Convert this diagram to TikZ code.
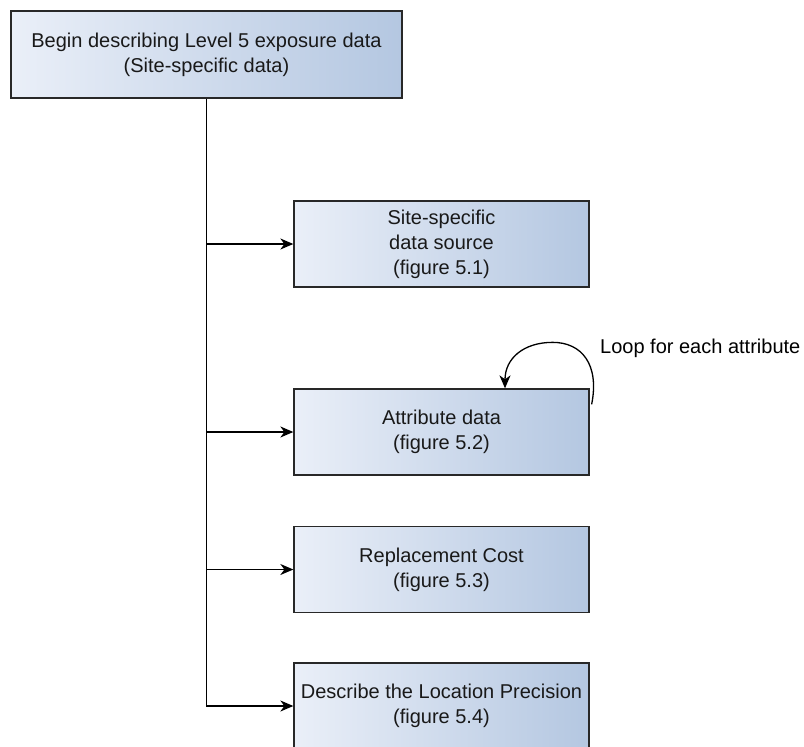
\documentclass[tikz,border=0pt]{standalone}
\usepackage{fontspec}
\setmainfont{Liberation Sans}
\usetikzlibrary{arrows.meta,calc}
\definecolor{boxleft}{RGB}{234,239,248}
\definecolor{boxright}{RGB}{180,199,225}
\definecolor{edge}{RGB}{40,40,40}
\tikzset{
  stepbox/.style={draw=edge, line width=1.3pt, left color=boxleft, right color=boxright,
    shading angle=90, minimum width=295pt, minimum height=86pt, inner sep=0pt,
    align=center, font=\fontsize{20}{25}\selectfont, text=black!90},
  link/.style={line width=1.3pt, draw=black, -{Stealth[length=13pt,width=11pt,inset=4pt]}},
  note/.style={font=\fontsize{20}{25}\selectfont, anchor=west, inner sep=0pt}
}
\begin{document}
\begin{tikzpicture}[x=1pt,y=-1pt]
  \useasboundingbox (0,0) rectangle (804,747);
  \clip (0,0) rectangle (804,747);
  % start box
  \node[stepbox, minimum width=391pt, minimum height=87pt] (top) at (206.5,54.5)
    {Begin describing Level 5 exposure data\\(Site-specific data)};
  % steps
  \node[stepbox] (b2) at (441.5,244) {Site-specific\\data source\\(figure 5.1)};
  \node[stepbox] (b3) at (441.5,432) {Attribute data\\(figure 5.2)};
  \node[stepbox] (b4) at (441.5,569.5) {Replacement Cost\\(figure 5.3)};
  \node[stepbox] (b5) at (441.5,706) {Describe the Location Precision\\(figure 5.4)};
  % trunk and branches
  \draw[link] (top.south) |- (b5.west);
  \draw[link] (top.south |- b2.west) -- (b2.west);
  \draw[link] (top.south |- b3.west) -- (b3.west);
  \draw[link] (top.south |- b4.west) -- (b4.west);
  % self loop on attribute data
  \coordinate (loopA) at ($(b3.north east)+(2,16)$);
  \coordinate (loopB) at ($(b3.north)+(63.5,0)$);
  \draw[link] (loopA) .. controls ($(loopA)+(8,-40)$) and ($(loopA)+(-10,-62)$) .. ($(loopA)+(-39,-62)$)
    .. controls ($(loopA)+(-68,-62)$) and ($(loopB)+(0,-30)$) .. (loopB);
  \node[note] (lbl) at (600,348) {Loop for each attribute};
\end{tikzpicture}
\end{document}
